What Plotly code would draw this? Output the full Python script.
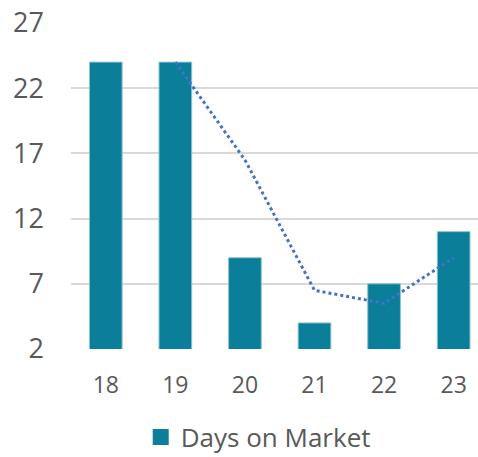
import plotly.graph_objects as go

categories = ["18", "19", "20", "21", "22", "23"]
days_on_market = [24, 24, 9, 4, 7, 11]
trend_categories = ["19", "20", "21", "22", "23"]
trend_values = [24, 16.5, 6.5, 5.5, 9]
y_ticks = [2, 7, 12, 17, 22, 27]

bar_color = "#0B7E99"
line_color = "#4472C4"
text_color = "#595959"
font_family = "Open Sans, Liberation Sans, sans-serif"

fig = go.Figure()
fig.add_trace(go.Bar(
    x=categories, y=days_on_market, name="Days on Market",
    marker=dict(color=bar_color, line=dict(color="#8FC3D1", width=1)),
    width=0.47, showlegend=False,
))
fig.add_trace(go.Scatter(
    x=trend_categories, y=trend_values, mode="lines",
    line=dict(color=line_color, width=3, dash="dot"),
    showlegend=False, hoverinfo="skip",
))
fig.add_trace(go.Scatter(
    x=[None], y=[None], mode="markers", name="Days on Market",
    marker=dict(symbol="square", size=18, color=bar_color),
))

fig.update_layout(
    width=478, height=457,
    margin=dict(l=71, r=0, t=23, b=108, autoexpand=False),
    plot_bgcolor="white", paper_bgcolor="white",
    font=dict(family=font_family, size=23, color=text_color),
    showlegend=True,
    legend=dict(orientation="h", x=0.46, xanchor="center", y=-0.27, yanchor="middle",
                font=dict(size=26, color=text_color), itemsizing="trace"),
    xaxis=dict(type="category", range=[-0.5, 5.35], showgrid=False, showline=False,
               ticks="", tickfont=dict(size=23), ticklabelstandoff=20),
    yaxis=dict(range=[2, 27], tickvals=y_ticks, showgrid=True, gridcolor="#D9D9D9",
               gridwidth=1.5, zeroline=False, showline=False, ticks="",
               tickfont=dict(size=27), ticklabelstandoff=26),
)
fig.write_html("out.html", config={"displayModeBar": False},
               post_script="document.body.style.margin='0';document.body.style.overflow='hidden';")
